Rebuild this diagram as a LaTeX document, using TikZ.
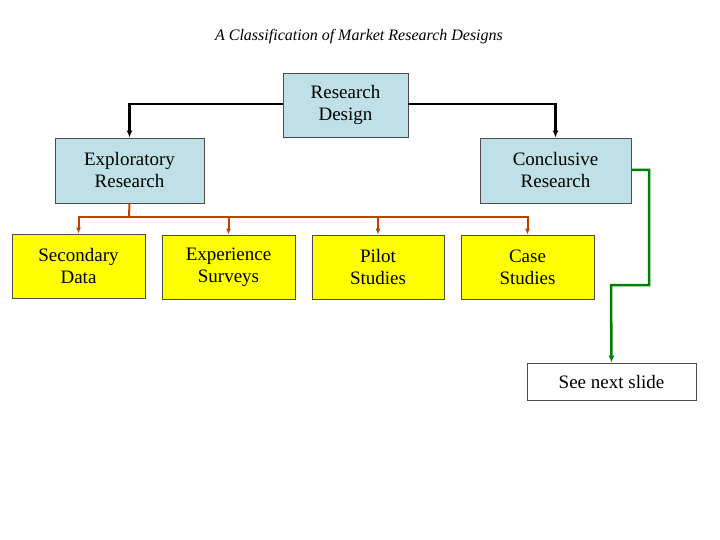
\documentclass[tikz,border=0pt]{standalone}
\usepackage{fontspec}
\setmainfont{Liberation Serif}
\usetikzlibrary{arrows.meta}
\definecolor{lblue}{RGB}{191,224,230}
\definecolor{yel}{RGB}{255,255,0}
\definecolor{org}{RGB}{192,64,0}
\definecolor{grn}{RGB}{0,128,0}
\begin{document}
\begin{tikzpicture}[x=1pt,y=-1pt,
 box/.style={draw=black!70,line width=0.8pt,align=center,inner sep=0pt,font=\fontsize{19}{22}\selectfont},
 bluebox/.style={box,fill=lblue},
 yelbox/.style={box,fill=yel},
 blk/.style={line width=2.5pt,-{Latex[length=7pt,width=6pt]}},
 orgline/.style={draw=org,line width=2pt},
 orgarr/.style={orgline,-{Latex[length=6pt,width=5pt]}},
 grnarr/.style={draw=grn,line width=2.5pt,-{Latex[length=7pt,width=6pt]}}]
\useasboundingbox (0,0) rectangle (720,540);
\node[font=\itshape\fontsize{16}{19}\selectfont] (t) at (359,37) {A Classification of Market Research Designs};
\node[bluebox,minimum width=125,minimum height=64] (rd) at (345.5,105) {Research\\Design};
\node[bluebox,minimum width=149,minimum height=65] (ex) at (129.5,170.5) {Exploratory\\Research};
\node[bluebox,minimum width=151,minimum height=65] (co) at (555.5,170.5) {Conclusive\\Research};
\node[yelbox,minimum width=133,minimum height=64] (sd) at (78.5,266) {Secondary\\Data};
\node[yelbox,minimum width=133,minimum height=64] (es) at (228.5,267) {Experience\\Surveys};
\node[yelbox,minimum width=132,minimum height=64] (ps) at (378,267) {Pilot\\Studies};
\node[yelbox,minimum width=133,minimum height=64] (cs) at (527.5,267) {Case\\Studies};
\node[box,minimum width=169,minimum height=37] (sn) at (611.5,381.5) {See next slide};
\draw[blk] (rd.west|-0,104) -| (ex.north);
\draw[blk] (rd.east|-0,104) -| (co.north);
\coordinate (j) at (129,217);
\draw[orgline] (ex.south) -- (j);
\draw[orgarr] (j) -| (sd.north);
\draw[orgarr] (j) -| (es.north);
\draw[orgarr] (j) -| (ps.north);
\draw[orgarr] (j) -| (cs.north);
\draw[grnarr] (co.east|-0,170) -- (649,170) -- (649,285) -- (611,285) -- (sn.north);
\end{tikzpicture}
\end{document}
